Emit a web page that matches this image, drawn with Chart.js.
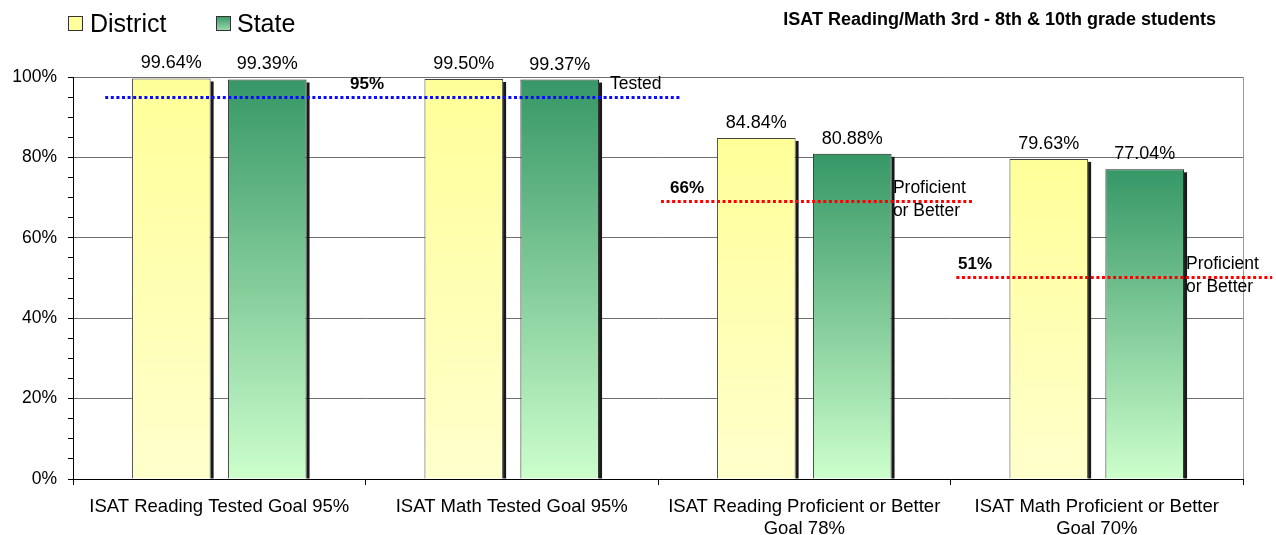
<!DOCTYPE html>
<html>
<head>
<meta charset="utf-8">
<script src="https://cdn.jsdelivr.net/npm/chart.js@4.4.0/dist/chart.umd.min.js"></script>
<style>
body{margin:0;background:#fff;}
#wrap{width:1276px;height:535px;}
</style>
</head>
<body>
<div id="wrap"><canvas id="isatChart" width="1276" height="535"></canvas></div>
<script>
// values
const categories = [
  ['ISAT Reading Tested Goal 95%'],
  ['ISAT Math Tested Goal 95%'],
  ['ISAT Reading Proficient or Better', 'Goal 78%'],
  ['ISAT Math Proficient or Better', 'Goal 70%']
];
const districtValues = [99.64, 99.50, 84.84, 79.63];
const stateValues = [99.39, 99.37, 80.88, 77.04];
const yTickLabels = [0, 20, 40, 60, 80, 100];
const goalLevels = [95, 69.2, 50.2];
const goalLabels = ['95%', '66%', '51%'];
const goalNotes = [['Tested'], ['Proficient', 'or Better'], ['Proficient', 'or Better']];
const seriesNames = ['District', 'State'];
const chartTitle = 'ISAT Reading/Math 3rd - 8th & 10th grade students';

// where the goal lines run, in category units
const goalLayout = [
  {from: -0.39, to: 1.58, labelAt: 0.447, noteAt: 1.336, color: '#0a0aff'},
  {from: 1.51, to: 2.58, labelAt: 1.541, noteAt: 2.303, color: '#ff0000'},
  {from: 2.52, to: 3.60, labelAt: 2.526, noteAt: 3.305, color: '#ff0000'}
];

const FONT = '"Liberation Sans", Arial, sans-serif';

function barGradient(top, bottom){
  return function(ctx){
    const chart = ctx.chart;
    const y = chart.scales.y;
    if(!y || !chart.chartArea) return top;
    const v = ctx.raw == null ? 0 : ctx.raw;
    const g = chart.ctx.createLinearGradient(0, y.getPixelForValue(v), 0, y.getPixelForValue(0));
    g.addColorStop(0, top);
    g.addColorStop(1, bottom);
    return g;
  };
}

const stateTop = '#369766', stateBottom = '#ccffcc';
const distTop = '#ffff99', distBottom = '#ffffcc';

// bar shadows (right side), drawn before bars
const shadowPlugin = {
  id: 'shadows',
  beforeDatasetsDraw(chart){
    const c = chart.ctx;
    c.save();
    c.fillStyle = '#1a1a1a';
    chart.data.datasets.forEach((ds, i) => {
      chart.getDatasetMeta(i).data.forEach(bar => {
        const p = bar.getProps(['x', 'y', 'base', 'width'], true);
        c.fillRect(p.x + p.width / 2, p.y + 3, 3, p.base - p.y - 3);
      });
    });
    c.restore();
  }
};

const overlayPlugin = {
  id: 'overlay',
  afterDatasetsDraw(chart){
    const c = chart.ctx;
    const x = chart.scales.x, y = chart.scales.y;
    const area = chart.chartArea;
    c.save();

    // right border of plot
    c.strokeStyle = '#9a9a9a';
    c.lineWidth = 1;
    c.beginPath();
    c.moveTo(area.right + 0.5, area.top);
    c.lineTo(area.right + 0.5, area.bottom);
    c.stroke();

    // values above bars
    c.fillStyle = '#000';
    c.font = '18px ' + FONT;
    c.textAlign = 'center';
    c.textBaseline = 'alphabetic';
    chart.data.datasets.forEach((ds, i) => {
      chart.getDatasetMeta(i).data.forEach((bar, j) => {
        c.fillText(ds.data[j].toFixed(2) + '%', bar.x, bar.y - 10);
      });
    });

    // goal lines
    goalLevels.forEach((lvl, i) => {
      const g = goalLayout[i];
      const py = Math.round(y.getPixelForValue(lvl)) + 0.5;
      c.strokeStyle = g.color;
      c.lineWidth = 3;
      c.setLineDash([3, 2.6]);
      c.beginPath();
      c.moveTo(x.getPixelForValue(g.from), py);
      c.lineTo(x.getPixelForValue(g.to), py);
      c.stroke();
      c.setLineDash([]);

      c.fillStyle = '#000';
      c.textAlign = 'left';
      c.textBaseline = 'middle';
      c.font = 'bold 17px ' + FONT;
      c.fillText(goalLabels[i], x.getPixelForValue(g.labelAt), py - 13);
      c.font = '17.5px ' + FONT;
      goalNotes[i].forEach((t, k) => {
        c.fillText(t, x.getPixelForValue(g.noteAt), py - 13 + k * 23);
      });
    });
    c.restore();
  },
  afterDraw(chart){
    const c = chart.ctx;
    c.save();
    // title
    c.fillStyle = '#000';
    c.font = 'bold 18px ' + FONT;
    c.textAlign = 'right';
    c.textBaseline = 'middle';
    c.fillText(chartTitle, 1216, 20);

    // legend
    const boxes = [
      {x: 68, tx: 90, top: distTop, bottom: distBottom},
      {x: 216, tx: 237, top: stateTop, bottom: stateBottom}
    ];
    boxes.forEach((b, i) => {
      const g = c.createLinearGradient(0, 16, 0, 31);
      g.addColorStop(0, b.top);
      g.addColorStop(1, i === 0 ? b.top : '#9fdcaf');
      c.fillStyle = g;
      c.fillRect(b.x, 16.5, 14, 14);
      c.strokeStyle = '#333';
      c.lineWidth = 1;
      c.strokeRect(b.x + 0.5, 16.5, 14, 14);
      c.fillStyle = '#000';
      c.font = '25px ' + FONT;
      c.textAlign = 'left';
      c.textBaseline = 'alphabetic';
      c.fillText(seriesNames[i], b.tx, 31.5);
    });
    c.restore();
  }
};

new Chart(document.getElementById('isatChart'), {
  type: 'bar',
  data: {
    labels: categories,
    datasets: [
      {label: seriesNames[0], data: districtValues, backgroundColor: barGradient(distTop, distBottom), borderColor: '#444', borderWidth: 1, categoryPercentage: 0.656, barPercentage: 0.82},
      {label: seriesNames[1], data: stateValues, backgroundColor: barGradient(stateTop, stateBottom), borderColor: '#222', borderWidth: 1, categoryPercentage: 0.656, barPercentage: 0.82}
    ]
  },
  options: {
    responsive: false,
    animation: false,
    layout: {padding: {top: 77, right: 33, left: 0, bottom: 0}},
    plugins: {legend: {display: false}, title: {display: false}, tooltip: {enabled: false}},
    scales: {
      x: {
        grid: {offset: true, drawOnChartArea: false, tickLength: 6, tickColor: '#000'},
        border: {color: '#000'},
        ticks: {color: '#000', font: {size: 18.5, family: FONT, lineHeight: 1.2}, padding: 11, maxRotation: 0, autoSkip: false},
        afterFit: s => { s.height = 56; }
      },
      y: {
        min: 0, max: 100,
        grid: {
          color: ctx => (ctx.tick && ctx.tick.value % 20 === 0) ? '#707070' : 'rgba(0,0,0,0)',
          tickColor: '#000', tickLength: 5
        },
        border: {color: '#000'},
        ticks: {
          stepSize: 5, autoSkip: false, color: '#000', padding: 11,
          font: {size: 17.5, family: FONT},
          callback: v => yTickLabels.includes(v) ? v + '%' : ''
        },
        afterFit: s => { s.width = 73; }
      }
    }
  },
  plugins: [shadowPlugin, overlayPlugin]
});
</script>
</body>
</html>
